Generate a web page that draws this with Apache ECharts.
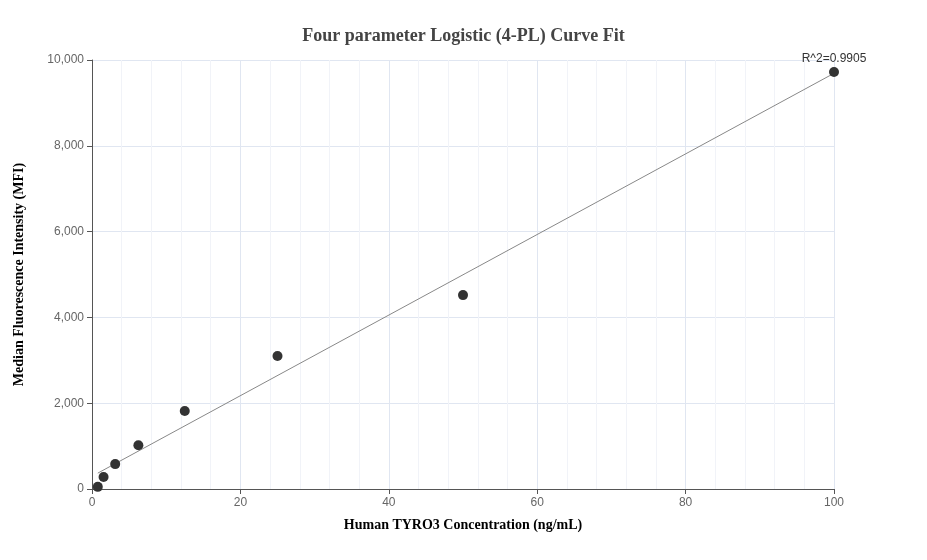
<!DOCTYPE html>
<html>
<head>
<meta charset="utf-8">
<script src="https://cdn.jsdelivr.net/npm/echarts@6/dist/echarts.min.js"></script>
<style>html,body{margin:0;padding:0;background:#fff}</style>
</head>
<body>
<div id="chart" style="width:927px;height:560px"></div>
<script>
const concentrations = [0.78, 1.56, 3.125, 6.25, 12.5, 25, 50, 100];
const mfiValues = [50, 280, 580, 1020, 1820, 3100, 4520, 9720];
const fitX = [0.78, 100];
const fitY = [370, 9690];
const r2Label = 'R^2=0.9905';

const chart = echarts.init(document.getElementById('chart'));
chart.setOption({
    animation: false,
    title: {
        text: 'Four parameter Logistic (4-PL) Curve Fit',
        left: 'center', top: 22,
        textStyle: { fontFamily: 'Liberation Serif', fontSize: 18, fontWeight: 'bold', color: '#444' }
    },
    grid: { left: 92, right: 93, top: 60, bottom: 71 },
    xAxis: {
        type: 'value', min: 0, max: 100, interval: 20,
        name: 'Human TYRO3 Concentration (ng/mL)', nameLocation: 'middle', nameGap: 29,
        nameTextStyle: { fontFamily: 'Liberation Serif', fontSize: 14, fontWeight: 'bold', color: '#000' },
        axisLine: { lineStyle: { color: '#555' } },
        axisTick: { show: true, lineStyle: { color: '#555' } },
        axisLabel: { color: '#666', fontSize: 12 },
        splitLine: { lineStyle: { color: '#e0e6f1' } },
        minorTick: { show: false, splitNumber: 5 },
        minorSplitLine: { show: true, lineStyle: { color: '#f1f3f8' } }
    },
    yAxis: {
        type: 'value', min: 0, max: 10000, interval: 2000,
        name: 'Median Fluorescence Intensity (MFI)', nameLocation: 'middle', nameGap: 66,
        nameTextStyle: { fontFamily: 'Liberation Serif', fontSize: 14, fontWeight: 'bold', color: '#000' },
        axisLine: { show: true, lineStyle: { color: '#555' } },
        axisTick: { show: true, lineStyle: { color: '#555' } },
        axisLabel: { color: '#666', fontSize: 12, formatter: v => v.toLocaleString('en-US') },
        splitLine: { lineStyle: { color: '#e0e6f1' } }
    },
    series: [
        {
            type: 'line', data: fitX.map((x, i) => [x, fitY[i]]),
            showSymbol: false, lineStyle: { color: '#888', width: 1 }, z: 1
        },
        {
            type: 'scatter', data: concentrations.map((x, i) => [x, mfiValues[i]]),
            symbolSize: 10, itemStyle: { color: '#333', opacity: 1 }, z: 2,
            label: {
                show: true, position: 'top', distance: 2, color: '#333', fontSize: 12,
                formatter: p => p.dataIndex === concentrations.length - 1 ? r2Label : ''
            }
        }
    ]
});
</script>
</body>
</html>
